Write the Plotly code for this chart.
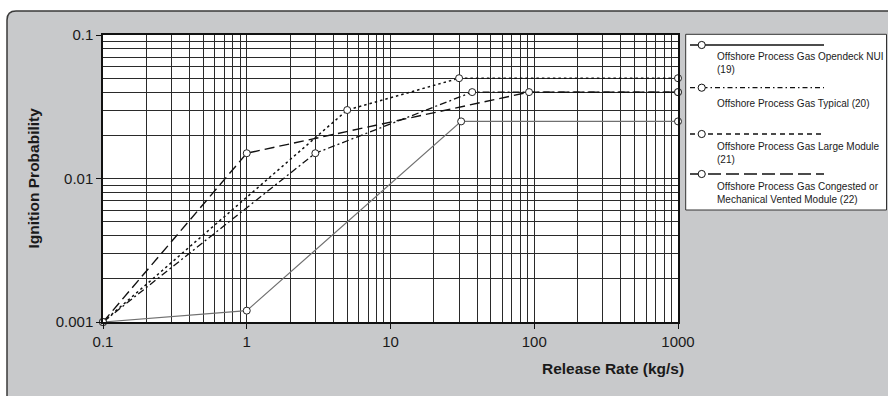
import plotly.graph_objects as go

# ---------------- data ----------------
nui_rate = [0.1, 1, 31, 1000]
nui_prob = [0.001, 0.0012, 0.025, 0.025]

typical_rate = [0.1, 3, 37, 1000]
typical_prob = [0.001, 0.015, 0.04, 0.04]

large_rate = [0.1, 5, 30, 1000]
large_prob = [0.001, 0.03, 0.05, 0.05]

congested_rate = [0.1, 1, 92, 1000]
congested_prob = [0.001, 0.015, 0.04, 0.04]

x_major = [0.1, 1, 10, 100, 1000]
x_major_text = ["0.1", "1", "10", "100", "1000"]
y_major = [0.001, 0.01, 0.1]
y_major_text = ["0.001", "0.01", "0.1"]
minor_mult = [2, 3, 4, 5, 6, 7, 8, 9]

legend_labels = [
    "Offshore Process Gas Opendeck NUI<br>(19)",
    "Offshore Process Gas Typical (20)",
    "Offshore Process Gas Large Module<br>(21)",
    "Offshore Process Gas Congested or<br>Mechanical Vented Module (22)",
]

# ---------------- layout geometry ----------------
W, H = 888, 396
ML, MR, MT, MB = 103, 210, 35, 74
PW, PH = W - ML - MR, H - MT - MB
FONT = "Liberation Sans, Arial, sans-serif"
TXT = "#1a1a1a"


def px(xp):
    return (xp - ML) / PW


def py(yp):
    return (H - MB - yp) / PH


x_minor = [m * d for d in [0.1, 1, 10, 100] for m in minor_mult]
y_minor = [m * d for d in [0.001, 0.01] for m in minor_mult]

marker = dict(symbol="circle", size=7, color="white", line=dict(color="#222", width=1))

fig = go.Figure()
fig.add_trace(go.Scatter(x=nui_rate, y=nui_prob, mode="lines+markers",
                         line=dict(color="#707070", width=1.2), marker=marker,
                         cliponaxis=False, name="NUI"))
fig.add_trace(go.Scatter(x=typical_rate, y=typical_prob, mode="lines+markers",
                         line=dict(color="#111", width=1.3, dash="7px,3px,2px,3px"),
                         marker=marker, cliponaxis=False, name="Typical"))
fig.add_trace(go.Scatter(x=large_rate, y=large_prob, mode="lines+markers",
                         line=dict(color="#111", width=1.5, dash="2.5px,3px"),
                         marker=marker, cliponaxis=False, name="Large"))
fig.add_trace(go.Scatter(x=congested_rate, y=congested_prob, mode="lines+markers",
                         line=dict(color="#111", width=1.4, dash="10px,5px"),
                         marker=marker, cliponaxis=False, name="Congested"))

grid = "#2a2a2a"
fig.update_xaxes(type="log", range=[-1, 3], tickmode="array", tickvals=x_major,
                 ticktext=x_major_text, ticks="outside", ticklen=5, tickcolor="#111",
                 showgrid=True, gridcolor=grid, gridwidth=1,
                 minor=dict(tickmode="array", tickvals=x_minor, showgrid=True,
                            gridcolor=grid, gridwidth=1, ticks=""),
                 showline=True, linecolor="#111", linewidth=1.5, mirror=True,
                 zeroline=False, tickfont=dict(family=FONT, size=15, color=TXT))
fig.update_yaxes(type="log", range=[-3, -1], tickmode="array", tickvals=y_major,
                 ticktext=y_major_text, ticks="outside", ticklen=5, tickcolor="#111",
                 showgrid=True, gridcolor=grid, gridwidth=1,
                 minor=dict(tickmode="array", tickvals=y_minor, showgrid=True,
                            gridcolor=grid, gridwidth=1, ticks=""),
                 showline=True, linecolor="#111", linewidth=1.5, mirror=True,
                 zeroline=False, tickfont=dict(family=FONT, size=15, color=TXT))

# background panel with rounded top-left corner
rx, ry = 9 / PW, 9 / PH
x0, y1 = px(7), py(11)
x2, y0 = px(W + 10), py(H + 10)
panel_path = (f"M {x0},{y1 - ry} Q {x0},{y1} {x0 + rx},{y1} "
              f"L {x2},{y1} L {x2},{y0} L {x0},{y0} Z")
shapes = [
    dict(type="path", xref="paper", yref="paper", path=panel_path,
         fillcolor="#c8c9cb", line=dict(color="#3a3a3a", width=1.5), layer="below"),
    dict(type="rect", xref="paper", yref="paper", x0=0, x1=1, y0=0, y1=1,
         fillcolor="white", line=dict(width=0), layer="below"),
    dict(type="rect", xref="paper", yref="paper", x0=px(685.7), x1=px(886.5),
         y0=py(210), y1=py(34.3), fillcolor="white",
         line=dict(color="#333", width=1), layer="below"),
]

leg_line_y = [45, 87.7, 134, 174]
leg_text_y = [63.3, 103.3, 152.7, 193.3]
leg_dash = ["solid", "5px,3px,1.5px,3px", "5px,4px", "13px,5px"]
annotations = []
for ly, ty, dsh, lab in zip(leg_line_y, leg_text_y, leg_dash, legend_labels):
    shapes.append(dict(type="line", xref="paper", yref="paper",
                       x0=px(690), x1=px(824), y0=py(ly), y1=py(ly),
                       line=dict(color="#111", width=1.3, dash=dsh), layer="above"))
    shapes.append(dict(type="circle", xref="paper", yref="paper",
                       x0=px(701.7 - 3.6), x1=px(701.7 + 3.6),
                       y0=py(ly + 3.6), y1=py(ly - 3.6),
                       fillcolor="white", line=dict(color="#111", width=1), layer="above"))
    annotations.append(dict(xref="paper", yref="paper", x=px(715), y=py(ty),
                            xanchor="left", yanchor="middle", align="left",
                            text=lab, showarrow=False,
                            font=dict(family=FONT, size=10, color=TXT)))

annotations.append(dict(xref="paper", yref="paper", x=px(613), y=py(368),
                        xanchor="center", yanchor="middle",
                        text="<b>Release Rate (kg/s)</b>", showarrow=False,
                        font=dict(family=FONT, size=15.5, color=TXT)))
annotations.append(dict(xref="paper", yref="paper", x=px(33), y=py(178.5),
                        xanchor="center", yanchor="middle", textangle=-90,
                        text="<b>Ignition Probability</b>", showarrow=False,
                        font=dict(family=FONT, size=15.5, color=TXT)))

fig.update_layout(width=W, height=H, margin=dict(l=ML, r=MR, t=MT, b=MB),
                  paper_bgcolor="white", plot_bgcolor="white",
                  showlegend=False, shapes=shapes, annotations=annotations,
                  font=dict(family=FONT, color=TXT))

fig.write_html("out.html", config={"displayModeBar": False},
               post_script="document.body.style.margin='0';document.body.style.overflow='hidden';")
